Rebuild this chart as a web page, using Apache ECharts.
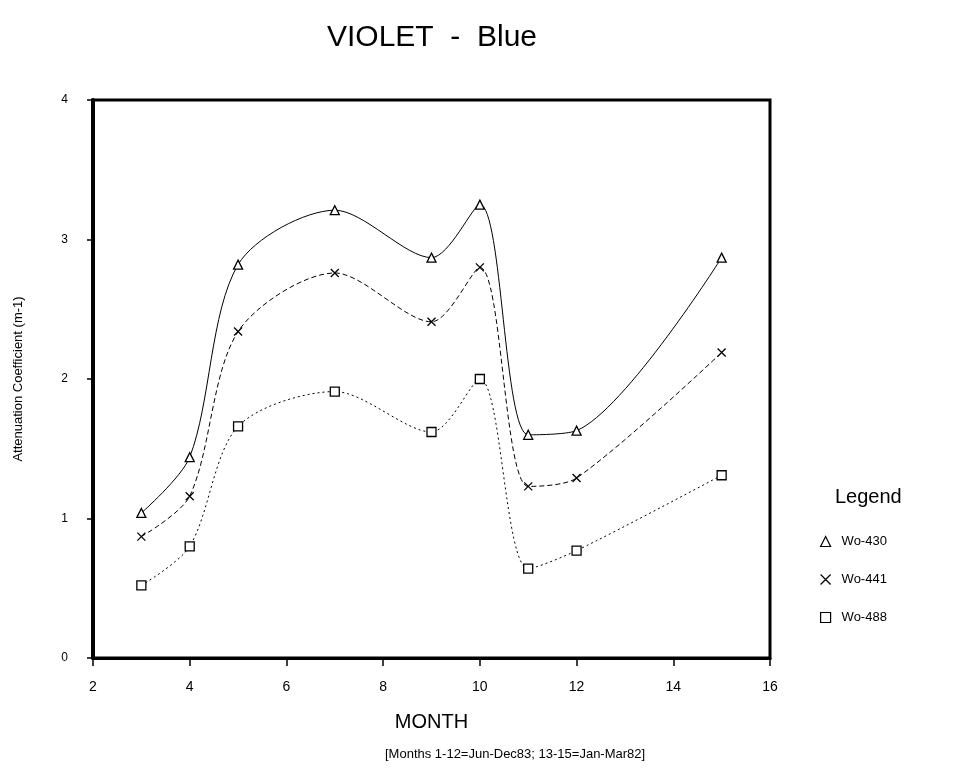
<!DOCTYPE html>
<html>
<head>
<meta charset="utf-8">
<script src="https://cdn.jsdelivr.net/npm/echarts@6/dist/echarts.min.js"></script>
<style>
html,body{margin:0;padding:0;background:#fff;}
#chart{width:963px;height:781px;}
</style>
</head>
<body>
<div id="chart"></div>
<script>
const months = [3, 4, 5, 7, 9, 10, 11, 12, 15];
const wo430 = [1.04, 1.44, 2.82, 3.21, 2.87, 3.25, 1.60, 1.63, 2.87];
const wo441 = [0.87, 1.16, 2.34, 2.76, 2.41, 2.80, 1.23, 1.29, 2.19];
const wo488 = [0.52, 0.80, 1.66, 1.91, 1.62, 2.00, 0.64, 0.77, 1.31];
const seriesNames = ['Wo-430', 'Wo-441', 'Wo-488'];
const xTicks = [2, 4, 6, 8, 10, 12, 14, 16];
const yTicks = [0, 1, 2, 3, 4];

const crossPath = 'path://M0,0L10,10M10,0L0,10';
const symbols = ['triangle', crossPath, 'rect'];
const lineTypes = ['solid', [5, 3], [2, 3]];
const allData = [wo430, wo441, wo488];

const chart = echarts.init(document.getElementById('chart'));
const font = 'Liberation Sans, Arial, sans-serif';

const series = seriesNames.map((name, i) => ({
  name: name,
  type: 'line',
  smooth: 0.3,
  data: months.map((m, j) => [m, allData[i][j]]),
  symbol: symbols[i],
  symbolSize: i === 1 ? 8 : 9,
  itemStyle: {color: '#fff', borderColor: '#000', borderWidth: 1.3},
  lineStyle: {color: '#000', width: 1, type: lineTypes[i]},
  emphasis: {disabled: true}
}));

chart.setOption({
  animation: false,
  backgroundColor: '#fff',
  title: [
    {text: 'VIOLET  -  Blue', left: 427, top: 18, textAlign: 'center',
     textStyle: {fontFamily: font, fontSize: 30, fontWeight: 'normal', color: '#000'}},
    {text: 'Legend', left: 830, top: 482,
     textStyle: {fontFamily: font, fontSize: 20, fontWeight: 'normal', color: '#000'}}
  ],
  grid: {left: 93, right: 193, top: 100, bottom: 123, show: true,
         borderColor: '#000', borderWidth: 3, backgroundColor: 'transparent'},
  legend: {
    orient: 'vertical', left: 815, top: 530, itemGap: 25,
    itemWidth: 10, itemHeight: 10,
    data: seriesNames.map((n, i) => ({name: n, icon: symbols[i]})),
    itemStyle: {color: '#fff', borderColor: '#000', borderWidth: 1.2},
    textStyle: {fontFamily: font, fontSize: 13, color: '#000', padding: [0, 0, 0, 6]}
  },
  xAxis: {
    type: 'value', min: xTicks[0], max: xTicks[xTicks.length - 1], interval: 2,
    name: 'MONTH', nameLocation: 'middle', nameGap: 54,
    nameTextStyle: {fontFamily: font, fontSize: 20, color: '#000'},
    axisLine: {show: true, lineStyle: {color: '#000', width: 3}},
    axisTick: {show: true, inside: false, length: 8, lineStyle: {color: '#000', width: 1.5}},
    axisLabel: {fontFamily: font, fontSize: 14, color: '#000', margin: 22},
    splitLine: {show: false}
  },
  yAxis: {
    type: 'value', min: yTicks[0], max: yTicks[yTicks.length - 1], interval: 1,
    name: 'Attenuation Coefficient (m-1)', nameLocation: 'middle', nameGap: 68,
    nameTextStyle: {fontFamily: font, fontSize: 13, color: '#000'},
    axisLine: {show: true, lineStyle: {color: '#000', width: 4}},
    axisTick: {show: true, inside: false, length: 6, lineStyle: {color: '#000', width: 1.5}},
    axisLabel: {fontFamily: font, fontSize: 12, color: '#000', margin: 25},
    splitLine: {show: false}
  },
  graphic: [
    {type: 'text', left: 385, top: 748,
     style: {text: '[Months 1-12=Jun-Dec83; 13-15=Jan-Mar82]', font: '13px ' + font, fill: '#000'}}
  ],
  series: series
});
</script>
</body>
</html>
